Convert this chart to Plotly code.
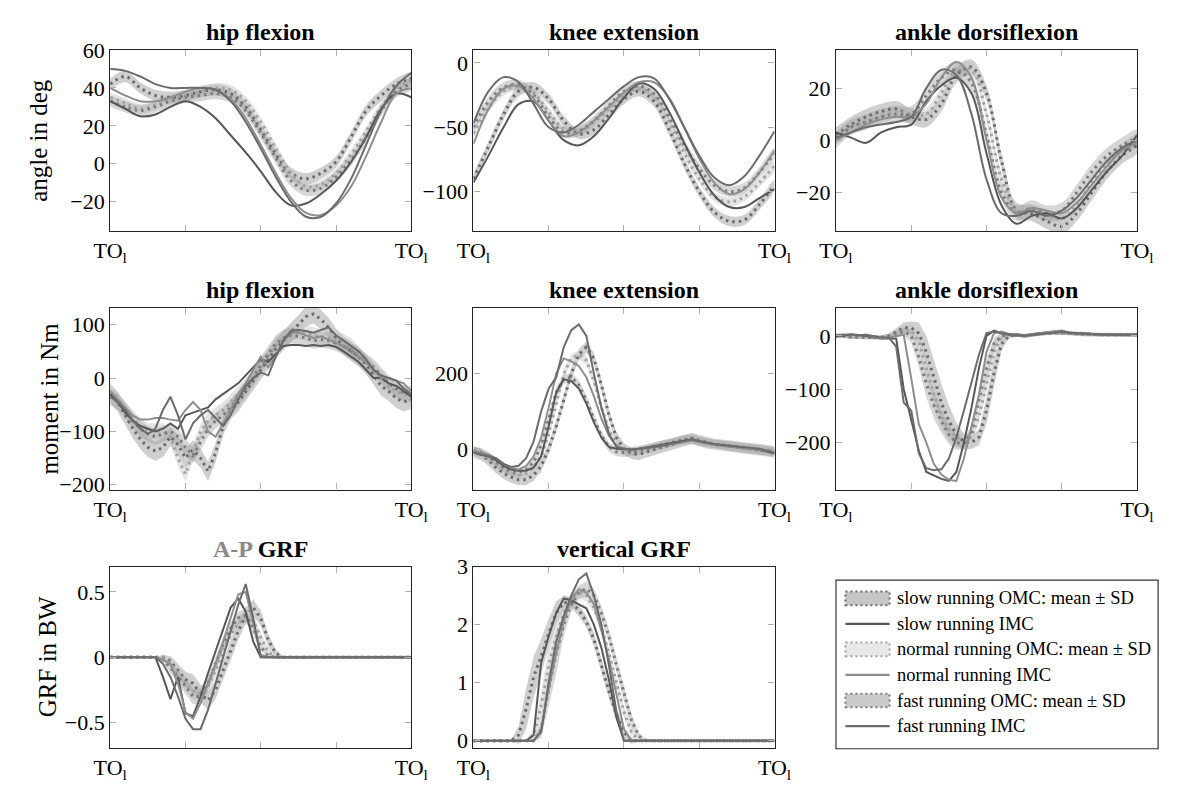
import plotly.graph_objects as go

FONT = "Liberation Serif"
W, H = 1179, 785

# ---------------- x grids (% of gait cycle, TO_l -> TO_l) ----------------
X21 = [0, 5, 10, 15, 20, 25, 30, 35, 40, 45, 50, 55, 60, 65, 70, 75, 80, 85, 90, 95, 100]
X41 = [0, 2.5, 5, 7.5, 10, 12.5, 15, 17.5, 20, 22.5, 25, 27.5, 30, 32.5, 35, 37.5, 40, 42.5,
       45, 47.5, 50, 52.5, 55, 57.5, 60, 62.5, 65, 67.5, 70, 72.5, 75, 77.5, 80, 82.5, 85,
       87.5, 90, 92.5, 95, 97.5, 100]
X_TICKS = [0, 25, 50, 75, 100]
X_TICK_TEXT = ["TO<sub>l</sub>", "", "", "", "TO<sub>l</sub>"]

# ---------------- hip flexion angle (deg) ----------------
HIP_ANG_OMC_SLOW = [42, 46, 40, 36, 35, 36, 38, 39, 37, 30, 18, 5, -5, -8, -5, 1, 14, 28, 36, 42, 45]
HIP_ANG_OMC_NORMAL = [35, 32, 29, 31, 34, 36, 38, 40, 39, 33, 22, 8, -5, -12, -11, -5, 5, 17, 30, 39, 44]
HIP_ANG_OMC_FAST = [33, 30, 28, 30, 33, 35, 36, 37, 35, 28, 16, 3, -9, -14, -13, -7, 2, 14, 28, 38, 42]
HIP_ANG_SD = {"slow": 3, "normal": 2.5, "fast": 3}
HIP_ANG_IMC_SLOW = [33, 29, 25, 26, 30, 33, 30, 24, 15, 6, -4, -15, -22, -21, -16, -9, 1, 14, 29, 37, 35]
HIP_ANG_IMC_NORMAL = [40, 36, 33, 33, 35, 38, 40, 39, 34, 24, 10, -5, -18, -26, -27, -22, -12, 4, 22, 37, 40]
HIP_ANG_IMC_FAST = [50, 49, 46, 42, 40, 40, 40, 39, 33, 22, 8, -7, -20, -28, -28, -21, -8, 10, 28, 41, 48]

# ---------------- knee extension angle (deg) ----------------
KNEE_ANG_OMC_SLOW = [-90, -65, -40, -22, -19, -28, -45, -55, -52, -40, -28, -22, -30, -52, -78, -100, -116, -123, -122, -110, -95]
KNEE_ANG_OMC_NORMAL = [-55, -35, -22, -18, -23, -38, -51, -52, -46, -36, -25, -20, -26, -46, -70, -90, -104, -108, -104, -93, -80]
KNEE_ANG_OMC_FAST = [-50, -30, -19, -17, -25, -42, -54, -53, -45, -33, -22, -18, -24, -42, -64, -82, -95, -100, -97, -85, -70]
KNEE_ANG_SD = {"slow": 4, "normal": 3.5, "fast": 4}
KNEE_ANG_IMC_SLOW = [-93, -72, -50, -32, -30, -45, -60, -64, -57, -43, -27, -16, -20, -38, -62, -85, -103, -112, -112, -105, -98]
KNEE_ANG_IMC_NORMAL = [-63, -36, -20, -18, -28, -45, -57, -54, -45, -34, -23, -15, -15, -27, -50, -74, -93, -102, -98, -85, -68]
KNEE_ANG_IMC_FAST = [-47, -22, -11, -15, -32, -50, -54, -48, -38, -28, -18, -11, -12, -28, -50, -72, -89, -95, -88, -72, -53]

# ---------------- ankle dorsiflexion angle (deg) ----------------
ANK_ANG_OMC_SLOW = [2, 6, 9, 11, 12, 9, 8, 14, 25, 28, 18, -8, -27, -28, -31, -33, -28, -20, -12, -6, -2]
ANK_ANG_OMC_NORMAL = [1, 5, 7, 9, 11, 10, 10, 18, 27, 27, 10, -15, -27, -27, -29, -30, -25, -16, -9, -4, 0]
ANK_ANG_OMC_FAST = [0, 5, 7, 9, 10, 10, 17, 24, 27, 22, 2, -20, -28, -26, -28, -27, -20, -12, -6, -2, 1]
ANK_ANG_SD = {"slow": 3, "normal": 2.5, "fast": 3}
ANK_ANG_IMC_SLOW = [3, 1, -1, 3, 5, 6, 15, 21, 24, 18, -5, -25, -32, -29, -28, -30, -26, -19, -12, -6, 2]
ANK_ANG_IMC_NORMAL = [0, 3, 6, 8, 9, 9, 14, 24, 30, 24, 0, -22, -28, -26, -27, -28, -24, -17, -10, -4, -1]
ANK_ANG_IMC_FAST = [1, 3, 5, 6, 7, 9, 20, 27, 25, 10, -15, -28, -29, -27, -29, -27, -22, -15, -8, -3, 0]

# ---------------- hip flexion moment (Nm) ----------------
HIP_MOM_OMC_SLOW = [-30, -45, -70, -95, -115, -130, -137, -130, -110, -125, -150, -135, -150, -175, -140, -90, -60, -45, -25, -5,
                    15, 35, 55, 70, 85, 100, 115, 120, 110, 95, 75, 60, 50, 40, 25, 5, -15, -25, -38, -45, -40]
HIP_MOM_OMC_NORMAL = [-25, -40, -60, -75, -90, -100, -100, -100, -110, -150, -180, -140, -100, -80, -70, -60, -45, -30, -15, 0,
                      20, 40, 60, 75, 85, 88, 85, 80, 78, 75, 72, 68, 60, 45, 30, 15, 0, -15, -25, -30, -35]
HIP_MOM_OMC_FAST = [-35, -45, -60, -80, -95, -105, -110, -105, -100, -110, -130, -145, -120, -95, -80, -70, -55, -40, -20, 0,
                    25, 45, 65, 75, 80, 78, 75, 70, 72, 70, 65, 60, 50, 40, 30, 20, 5, -10, -20, -28, -30]
HIP_MOM_SD = {"slow": 18, "normal": 15, "fast": 15}
HIP_MOM_IMC_SLOW = [-30, -45, -65, -80, -90, -95, -100, -95, -85, -95, -70, -65, -60, -55, -40, -30, -20, -10, 5, 20,
                    35, 30, 45, 60, 62, 62, 60, 62, 60, 62, 58, 50, 40, 30, 15, 0, 0, -10, -15, -25, -35]
HIP_MOM_IMC_NORMAL = [-25, -40, -55, -70, -78, -78, -75, -75, -78, -80, -60, -45, -60, -100, -110, -85, -60, -30, -10, 15,
                      40, 20, 40, 70, 85, 85, 80, 75, 78, 72, 65, 60, 55, 40, 30, 15, 0, 0, -5, -10, -25]
HIP_MOM_IMC_FAST = [-35, -45, -60, -80, -95, -105, -95, -60, -35, -70, -115, -85, -70, -60, -75, -90, -70, -40, -15, 0,
                    10, 5, 40, 70, 88, 90, 88, 85, 90, 95, 80, 70, 60, 50, 35, 15, 5, 0, -5, -20, -30]

# ---------------- knee extension moment (Nm) ----------------
KNEE_MOM_OMC_SLOW = [-8, -15, -30, -50, -65, -75, -82, -82, -70, -45, 0, 60, 130, 200, 250, 270, 240, 170, 90, 30,
                     0, -12, -15, -8, 0, 5, 10, 16, 22, 28, 22, 16, 12, 10, 8, 5, 2, 0, -2, -5, -8]
KNEE_MOM_OMC_NORMAL = [-5, -12, -25, -40, -55, -65, -70, -65, -50, -20, 40, 120, 200, 240, 250, 235, 180, 110, 50, 10,
                       -5, -8, -5, 0, 5, 10, 14, 18, 22, 24, 20, 15, 12, 10, 8, 5, 2, 0, -2, -5, -8]
KNEE_MOM_OMC_FAST = [-5, -10, -20, -35, -50, -60, -62, -55, -35, 10, 80, 150, 185, 190, 170, 130, 80, 35, 5, -8,
                     -10, -8, -5, 0, 5, 10, 15, 20, 25, 26, 20, 15, 12, 10, 8, 5, 2, 0, -2, -5, -8]
KNEE_MOM_SD = {"slow": 15, "normal": 12, "fast": 12}
KNEE_MOM_IMC_SLOW = [-10, -15, -20, -30, -45, -55, -58, -58, -50, -20, 60, 150, 185, 180, 160, 120, 70, 30, 5, 0,
                     -2, -2, 0, 3, 6, 10, 14, 18, 22, 25, 20, 15, 12, 10, 8, 5, 3, 0, -3, -8, -12]
KNEE_MOM_IMC_NORMAL = [-5, -10, -15, -25, -40, -50, -55, -45, -20, 30, 110, 200, 240, 232, 220, 190, 140, 80, 35, 8,
                       0, -2, 0, 2, 5, 8, 12, 16, 20, 22, 18, 14, 10, 8, 6, 4, 2, 0, -2, -5, -8]
KNEE_MOM_IMC_FAST = [-10, -15, -20, -25, -40, -48, -45, -25, 20, 100, 160, 190, 270, 315, 330, 300, 200, 110, 40, 5,
                     0, -2, 0, 2, 5, 8, 12, 18, 22, 25, 20, 15, 12, 10, 8, 5, 3, 2, 0, -5, -12]

# ---------------- ankle dorsiflexion moment (Nm) ----------------
ANK_MOM_OMC_SLOW = [0, 0, -2, -2, -3, -3, -3, 0, 8, 15, 15, 5, -30, -80, -125, -160, -185, -198, -200, -190,
                    -140, -70, -15, 0, 2, 0, 2, 4, 5, 6, 6, 5, 4, 3, 3, 2, 2, 2, 2, 2, 2]
ANK_MOM_OMC_NORMAL = [0, 0, -2, -2, -3, -3, -3, 0, 5, 10, 10, -10, -60, -110, -150, -175, -190, -197, -190, -150,
                      -90, -30, -2, 2, 2, 0, 2, 4, 5, 6, 6, 5, 4, 3, 3, 2, 2, 2, 2, 2, 2]
ANK_MOM_OMC_FAST = [0, 0, -2, -2, -3, -3, -3, 0, 5, 8, 0, -40, -90, -130, -160, -185, -200, -202, -180, -120,
                    -60, -15, 0, 2, 2, 0, 2, 4, 5, 6, 6, 5, 4, 3, 3, 2, 2, 2, 2, 2, 2]
ANK_MOM_SD = {
    "slow": [4, 4, 4, 4, 4, 4, 4, 4, 6, 10, 12, 20, 30, 35, 35, 30, 22, 15, 12, 15,
             25, 25, 12, 5, 4, 4, 4, 4, 4, 4, 4, 4, 4, 4, 4, 4, 4, 4, 4, 4, 4],
    "normal": [3, 3, 3, 3, 3, 3, 3, 3, 5, 8, 10, 15, 22, 25, 25, 22, 18, 12, 10, 12,
               18, 20, 10, 4, 3, 3, 3, 3, 3, 3, 3, 3, 3, 3, 3, 3, 3, 3, 3, 3, 3],
    "fast": [3, 3, 3, 3, 3, 3, 3, 3, 5, 8, 12, 18, 25, 25, 22, 18, 14, 10, 10, 14,
             18, 12, 5, 3, 3, 3, 3, 3, 3, 3, 3, 3, 3, 3, 3, 3, 3, 3, 3, 3, 3],
}
ANK_MOM_IMC_SLOW = [0, 0, 3, 2, 0, -3, -5, -5, -5, -100, -160, -215, -255, -262, -268, -272, -255, -200, -135, -60,
                    0, 10, 5, 2, 0, 0, 2, 5, 6, 8, 9, 6, 5, 4, 3, 3, 2, 2, 2, 2, 2]
ANK_MOM_IMC_NORMAL = [2, 2, 2, 0, 2, -2, -5, -3, 0, 2, -80, -165, -200, -240, -260, -270, -272, -230, -170, -110,
                      -30, 5, 8, 3, 0, 0, 3, 5, 6, 8, 10, 6, 5, 4, 3, 3, 2, 2, 2, 2, 2]
ANK_MOM_IMC_FAST = [0, 2, 2, 1, 2, 0, -3, -3, -20, -125, -140, -220, -248, -252, -250, -230, -190, -140, -85, -35,
                    5, 8, 5, 3, 2, 0, 2, 4, 5, 6, 8, 6, 5, 4, 3, 3, 2, 2, 2, 2, 2]

# ---------------- anterior-posterior GRF (BW) ----------------
APGRF_OMC_SLOW = [0, 0, 0, 0, 0, 0, 0, 0, -0.03, -0.1, -0.17, -0.2, -0.28, -0.33, -0.25, -0.1, 0.05, 0.2, 0.32, 0.38,
                  0.3, 0.13, 0.03, 0, 0, 0, 0, 0, 0, 0, 0, 0, 0, 0, 0, 0, 0, 0, 0, 0, 0]
APGRF_OMC_NORMAL = [0, 0, 0, 0, 0, 0, 0, 0, -0.05, -0.12, -0.2, -0.26, -0.28, -0.22, -0.1, 0.05, 0.17, 0.26, 0.3, 0.28,
                    0.15, 0.04, 0, 0, 0, 0, 0, 0, 0, 0, 0, 0, 0, 0, 0, 0, 0, 0, 0, 0, 0]
APGRF_OMC_FAST = [0, 0, 0, 0, 0, 0, 0, -0.02, -0.08, -0.15, -0.22, -0.3, -0.3, -0.2, -0.05, 0.1, 0.22, 0.3, 0.32, 0.22,
                  0.08, 0.01, 0, 0, 0, 0, 0, 0, 0, 0, 0, 0, 0, 0, 0, 0, 0, 0, 0, 0, 0]
APGRF_SD = {
    "slow": [0, 0, 0, 0, 0, 0, 0, 0.02, 0.04, 0.05, 0.06, 0.07, 0.07, 0.07, 0.07, 0.07, 0.07, 0.07, 0.06, 0.06,
             0.06, 0.05, 0.03, 0.01, 0, 0, 0, 0, 0, 0, 0, 0, 0, 0, 0, 0, 0, 0, 0, 0, 0],
    "normal": [0, 0, 0, 0, 0, 0, 0, 0.01, 0.03, 0.05, 0.06, 0.06, 0.06, 0.06, 0.06, 0.06, 0.06, 0.06, 0.05, 0.05,
               0.04, 0.03, 0.01, 0, 0, 0, 0, 0, 0, 0, 0, 0, 0, 0, 0, 0, 0, 0, 0, 0, 0],
    "fast": [0, 0, 0, 0, 0, 0, 0, 0.02, 0.04, 0.05, 0.06, 0.06, 0.06, 0.06, 0.05, 0.05, 0.05, 0.05, 0.05, 0.04,
             0.03, 0.01, 0, 0, 0, 0, 0, 0, 0, 0, 0, 0, 0, 0, 0, 0, 0, 0, 0, 0, 0],
}
APGRF_IMC_SLOW = [0, 0, 0, 0, 0, 0, 0, -0.15, -0.32, -0.15, -0.43, -0.45, -0.3, -0.12, 0.05, 0.22, 0.38, 0.45, 0.35, 0.12,
                  0, 0, 0, 0, 0, 0, 0, 0, 0, 0, 0, 0, 0, 0, 0, 0, 0, 0, 0, 0, 0]
APGRF_IMC_NORMAL = [0, 0, 0, 0, 0, 0, 0, -0.02, -0.05, -0.2, -0.42, -0.47, -0.35, -0.2, -0.05, 0.12, 0.3, 0.48, 0.5, 0.25,
                    0.02, 0, 0, 0, 0, 0, 0, 0, 0, 0, 0, 0, 0, 0, 0, 0, 0, 0, 0, 0, 0]
APGRF_IMC_FAST = [0, 0, 0, 0, 0, 0, 0, -0.05, -0.15, -0.3, -0.47, -0.55, -0.55, -0.4, -0.2, 0.0, 0.2, 0.4, 0.56, 0.3,
                  0, 0, 0, 0, 0, 0, 0, 0, 0, 0, 0, 0, 0, 0, 0, 0, 0, 0, 0, 0, 0]

# ---------------- vertical GRF (BW) ----------------
VGRF_OMC_SLOW = [0, 0, 0, 0, 0, 0, 0.1, 0.55, 1.1, 1.45, 1.85, 2.2, 2.38, 2.38, 2.25, 2.05, 1.75, 1.3, 0.85, 0.45,
                 0.15, 0, 0, 0, 0, 0, 0, 0, 0, 0, 0, 0, 0, 0, 0, 0, 0, 0, 0, 0, 0]
VGRF_OMC_NORMAL = [0, 0, 0, 0, 0, 0, 0, 0, 0.1, 0.6, 1.3, 1.8, 2.2, 2.45, 2.55, 2.5, 2.3, 1.95, 1.5, 1.0,
                   0.5, 0.15, 0, 0, 0, 0, 0, 0, 0, 0, 0, 0, 0, 0, 0, 0, 0, 0, 0, 0, 0]
VGRF_OMC_FAST = [0, 0, 0, 0, 0, 0, 0, 0, 0, 0.2, 0.9, 1.5, 2.0, 2.35, 2.55, 2.62, 2.5, 2.2, 1.8, 1.3,
                 0.8, 0.35, 0.08, 0, 0, 0, 0, 0, 0, 0, 0, 0, 0, 0, 0, 0, 0, 0, 0, 0, 0]
VGRF_SD = {
    "slow": [0, 0, 0, 0, 0, 0.02, 0.15, 0.35, 0.35, 0.3, 0.25, 0.2, 0.12, 0.1, 0.1, 0.1, 0.12, 0.12, 0.12, 0.12,
             0.1, 0.05, 0.01, 0, 0, 0, 0, 0, 0, 0, 0, 0, 0, 0, 0, 0, 0, 0, 0, 0, 0],
    "normal": [0, 0, 0, 0, 0, 0, 0, 0.02, 0.1, 0.25, 0.3, 0.25, 0.15, 0.1, 0.1, 0.1, 0.1, 0.1, 0.1, 0.1,
               0.1, 0.08, 0.02, 0, 0, 0, 0, 0, 0, 0, 0, 0, 0, 0, 0, 0, 0, 0, 0, 0, 0],
    "fast": [0, 0, 0, 0, 0, 0, 0, 0, 0.02, 0.15, 0.3, 0.35, 0.2, 0.12, 0.12, 0.12, 0.12, 0.12, 0.12, 0.12,
             0.12, 0.12, 0.06, 0.02, 0, 0, 0, 0, 0, 0, 0, 0, 0, 0, 0, 0, 0, 0, 0, 0, 0],
}
VGRF_IMC_SLOW = [0, 0, 0, 0, 0, 0, 0, 0, 0.1, 1.35, 1.8, 2.2, 2.45, 2.42, 2.35, 2.28, 2.0, 1.6, 1.05, 0.4,
                 0, 0, 0, 0, 0, 0, 0, 0, 0, 0, 0, 0, 0, 0, 0, 0, 0, 0, 0, 0, 0]
VGRF_IMC_NORMAL = [0, 0, 0, 0, 0, 0, 0, 0, 0, 0.2, 0.9, 1.5, 2.05, 2.45, 2.6, 2.55, 2.35, 1.9, 1.4, 0.8,
                   0.2, 0, 0, 0, 0, 0, 0, 0, 0, 0, 0, 0, 0, 0, 0, 0, 0, 0, 0, 0, 0]
VGRF_IMC_FAST = [0, 0, 0, 0, 0, 0, 0, 0, 0, 0.15, 1.0, 1.7, 2.15, 2.5, 2.78, 2.88, 2.5, 2.0, 1.3, 0.5,
                 0, 0, 0, 0, 0, 0, 0, 0, 0, 0, 0, 0, 0, 0, 0, 0, 0, 0, 0, 0, 0]

# ---------------- text ----------------
Y_TITLES = ["angle in deg", "moment in Nm", "GRF in BW"]
LEGEND_LABELS = ["slow running OMC: mean \u00b1 SD", "slow running IMC",
                 "normal running OMC: mean \u00b1 SD", "normal running IMC",
                 "fast running OMC: mean \u00b1 SD", "fast running IMC"]

SPEEDS = ["slow", "normal", "fast"]
BAND_FILL = {"slow": "rgba(135,135,135,0.40)", "normal": "rgba(195,195,195,0.45)", "fast": "rgba(155,155,155,0.40)"}
LEG_FILL = {"slow": "#c6c6c6", "normal": "#e8e8e8", "fast": "#cbcbcb"}
OMC_LINE = {"slow": "#6a6a6a", "normal": "#a2a2a2", "fast": "#7c7c7c"}
IMC_LINE = {"slow": "#575757", "normal": "#8e8e8e", "fast": "#6b6b6b"}

PANELS = [
    dict(title="<b>hip flexion</b>", row=0, col=0, x=X21, shape="spline",
         omc=dict(slow=HIP_ANG_OMC_SLOW, normal=HIP_ANG_OMC_NORMAL, fast=HIP_ANG_OMC_FAST), sd=HIP_ANG_SD,
         imc=dict(slow=HIP_ANG_IMC_SLOW, normal=HIP_ANG_IMC_NORMAL, fast=HIP_ANG_IMC_FAST),
         yr=[-35.5, 60], yt=[-20, 0, 20, 40, 60]),
    dict(title="<b>knee extension</b>", row=0, col=1, x=X21, shape="spline",
         omc=dict(slow=KNEE_ANG_OMC_SLOW, normal=KNEE_ANG_OMC_NORMAL, fast=KNEE_ANG_OMC_FAST), sd=KNEE_ANG_SD,
         imc=dict(slow=KNEE_ANG_IMC_SLOW, normal=KNEE_ANG_IMC_NORMAL, fast=KNEE_ANG_IMC_FAST),
         yr=[-130.6, 10.1], yt=[-100, -50, 0]),
    dict(title="<b>ankle dorsiflexion</b>", row=0, col=2, x=X21, shape="spline",
         omc=dict(slow=ANK_ANG_OMC_SLOW, normal=ANK_ANG_OMC_NORMAL, fast=ANK_ANG_OMC_FAST), sd=ANK_ANG_SD,
         imc=dict(slow=ANK_ANG_IMC_SLOW, normal=ANK_ANG_IMC_NORMAL, fast=ANK_ANG_IMC_FAST),
         yr=[-34.8, 34.6], yt=[-20, 0, 20]),
    dict(title="<b>hip flexion</b>", row=1, col=0, x=X41, shape="linear",
         omc=dict(slow=HIP_MOM_OMC_SLOW, normal=HIP_MOM_OMC_NORMAL, fast=HIP_MOM_OMC_FAST), sd=HIP_MOM_SD,
         imc=dict(slow=HIP_MOM_IMC_SLOW, normal=HIP_MOM_IMC_NORMAL, fast=HIP_MOM_IMC_FAST),
         yr=[-209, 132], yt=[-200, -100, 0, 100]),
    dict(title="<b>knee extension</b>", row=1, col=1, x=X41, shape="linear",
         omc=dict(slow=KNEE_MOM_OMC_SLOW, normal=KNEE_MOM_OMC_NORMAL, fast=KNEE_MOM_OMC_FAST), sd=KNEE_MOM_SD,
         imc=dict(slow=KNEE_MOM_IMC_SLOW, normal=KNEE_MOM_IMC_NORMAL, fast=KNEE_MOM_IMC_FAST),
         yr=[-108, 375], yt=[0, 200]),
    dict(title="<b>ankle dorsiflexion</b>", row=1, col=2, x=X41, shape="linear",
         omc=dict(slow=ANK_MOM_OMC_SLOW, normal=ANK_MOM_OMC_NORMAL, fast=ANK_MOM_OMC_FAST), sd=ANK_MOM_SD,
         imc=dict(slow=ANK_MOM_IMC_SLOW, normal=ANK_MOM_IMC_NORMAL, fast=ANK_MOM_IMC_FAST),
         yr=[-288, 53], yt=[-200, -100, 0]),
    dict(title="<span style='color:#8a8a8a'><b>A-P</b></span><b> GRF</b>", row=2, col=0, x=X41, shape="linear",
         omc=dict(slow=APGRF_OMC_SLOW, normal=APGRF_OMC_NORMAL, fast=APGRF_OMC_FAST), sd=APGRF_SD,
         imc=dict(slow=APGRF_IMC_SLOW, normal=APGRF_IMC_NORMAL, fast=APGRF_IMC_FAST),
         yr=[-0.692, 0.694], yt=[-0.5, 0, 0.5]),
    dict(title="<b>vertical GRF</b>", row=2, col=1, x=X41, shape="linear",
         omc=dict(slow=VGRF_OMC_SLOW, normal=VGRF_OMC_NORMAL, fast=VGRF_OMC_FAST), sd=VGRF_SD,
         imc=dict(slow=VGRF_IMC_SLOW, normal=VGRF_IMC_NORMAL, fast=VGRF_IMC_FAST),
         yr=[-0.12, 3.0], yt=[0, 1, 2, 3]),
]

# frame positions in pixels (left, right) per column and (top, bottom) per row
COL_PX = [(96, 406), (470, 780), (843.3, 1153.3)]
ROW_PX = [(39, 224.7), (303.3, 490), (569, 755)]
YTITLE_X = [22, 33, 31]   # centre of the rotated y-axis titles per row


def px_x(v):
    return v / W


def px_y(v):
    return 1 - v / H


fig = go.Figure()
layout = dict(width=W, height=H, margin=dict(l=0, r=0, t=0, b=0), paper_bgcolor="white",
              plot_bgcolor="white", showlegend=False, font=dict(family=FONT, size=21, color="black"))
annotations = []
shapes = []

for i, p in enumerate(PANELS):
    k = i + 1
    xa = "x" if k == 1 else f"x{k}"
    ya = "y" if k == 1 else f"y{k}"
    x = p["x"]
    for s in SPEEDS:
        assert len(p["omc"][s]) == len(x) and len(p["imc"][s]) == len(x), (i, s)
    # bands
    for s in SPEEDS:
        m = p["omc"][s]
        sd = p["sd"][s]
        sdl = sd if isinstance(sd, list) else [sd] * len(x)
        assert len(sdl) == len(x), (i, s, "sd")
        up = [a + b for a, b in zip(m, sdl)]
        lo = [a - b for a, b in zip(m, sdl)]
        fig.add_trace(go.Scatter(x=x + x[::-1], y=up + lo[::-1], fill="toself", fillcolor=BAND_FILL[s],
                                 line=dict(width=0, shape=p["shape"]), mode="lines", hoverinfo="skip",
                                 xaxis=xa, yaxis=ya))
    # OMC means (dotted)
    for s in SPEEDS:
        fig.add_trace(go.Scatter(x=x, y=p["omc"][s], mode="lines",
                                 line=dict(color=OMC_LINE[s], width=3, dash="2.5px,4px", shape=p["shape"]),
                                 xaxis=xa, yaxis=ya))
    # IMC (solid)
    for s in SPEEDS:
        fig.add_trace(go.Scatter(x=x, y=p["imc"][s], mode="lines",
                                 line=dict(color=IMC_LINE[s], width=2, shape=p["shape"]),
                                 xaxis=xa, yaxis=ya))
    cl, cr = COL_PX[p["col"]]
    rt, rb = ROW_PX[p["row"]]
    axis_common = dict(showline=True, linecolor="#222", linewidth=1.2, mirror="ticks", ticks="inside",
                       ticklen=6, tickwidth=1, tickcolor="#b0b0b0", showgrid=False, zeroline=False,
                       tickfont=dict(family=FONT, size=22, color="black"))
    layout["xaxis" if k == 1 else f"xaxis{k}"] = dict(
        domain=[px_x(cl), px_x(cr)], anchor=ya, range=[0, 100], tickmode="array",
        tickvals=X_TICKS, ticktext=X_TICK_TEXT, **axis_common)
    layout["yaxis" if k == 1 else f"yaxis{k}"] = dict(
        domain=[px_y(rb), px_y(rt)], anchor=xa, range=p["yr"], tickmode="array",
        tickvals=p["yt"], **axis_common)
    annotations.append(dict(text=p["title"], x=px_x((cl + cr) / 2), y=px_y(rt - 3), xref="paper", yref="paper",
                            xanchor="center", yanchor="bottom", showarrow=False,
                            font=dict(family=FONT, size=24, color="black")))

# y-axis titles
for r, t in enumerate(Y_TITLES):
    rt, rb = ROW_PX[r]
    annotations.append(dict(text=t, x=px_x(YTITLE_X[r]), y=px_y((rt + rb) / 2), xref="paper", yref="paper",
                            xanchor="center", yanchor="middle", textangle=-90, showarrow=False,
                            font=dict(family=FONT, size=25, color="black")))

# legend box (drawn manually)
LEG_L, LEG_R, LEG_T, LEG_B = 843.3, 1175, 583, 756
shapes.append(dict(type="rect", xref="paper", yref="paper", x0=px_x(LEG_L), x1=px_x(LEG_R),
                   y0=px_y(LEG_B), y1=px_y(LEG_T), line=dict(color="#333", width=1.2), fillcolor="white"))
ROW0, ROW_STEP = 601.7, 26.2
for j, lab in enumerate(LEGEND_LABELS):
    s = SPEEDS[j // 2]
    cy = ROW0 + ROW_STEP * j
    if j % 2 == 0:
        shapes.append(dict(type="rect", xref="paper", yref="paper", x0=px_x(853), x1=px_x(898.5),
                           y0=px_y(cy + 7), y1=px_y(cy - 7), fillcolor=LEG_FILL[s],
                           line=dict(color=OMC_LINE[s], width=2, dash="2px,3px")))
    else:
        shapes.append(dict(type="line", xref="paper", yref="paper", x0=px_x(853), x1=px_x(898.5),
                           y0=px_y(cy), y1=px_y(cy), line=dict(color=IMC_LINE[s], width=2.2)))
    annotations.append(dict(text=lab, x=px_x(904), y=px_y(cy), xref="paper", yref="paper",
                            xanchor="left", yanchor="middle", showarrow=False,
                            font=dict(family=FONT, size=18.5, color="black")))

layout["annotations"] = annotations
layout["shapes"] = shapes
fig.update_layout(**layout)
fig.write_html("out.html")
